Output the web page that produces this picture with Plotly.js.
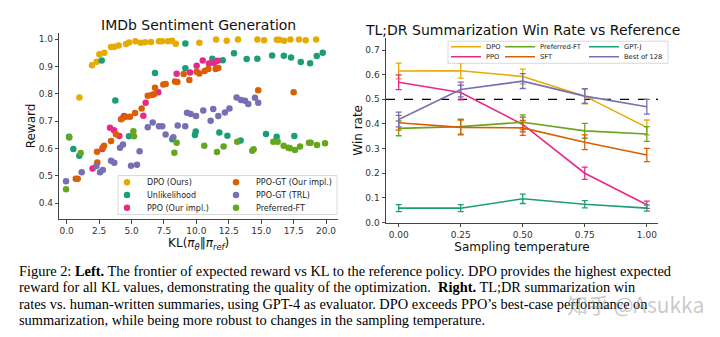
<!DOCTYPE html>
<html>
<head>
<meta charset="utf-8">
<script src="https://cdn.plot.ly/plotly-3.0.1.min.js"></script>
<style>html,body{margin:0;padding:0;background:#fff;}#chart{width:720px;height:337px;}</style>
</head>
<body>
<div id="chart"></div>
<script>
// ---------- Left panel: IMDb Sentiment Generation (KL vs Reward) ----------
const dpoKL = [0.98,1.95,2.31,2.52,2.90,3.42,3.68,4.01,4.58,4.81,5.30,5.71,6.04,6.50,7.12,7.35,7.81,8.12,8.41,10.23,11.52,12.34,13.21,14.70,15.22,16.20,16.40,16.76,17.25,17.92,18.43,19.23];
const dpoR  = [0.787,0.905,0.918,0.945,0.951,0.972,0.973,0.977,0.983,0.988,0.993,0.987,0.989,0.990,0.993,0.993,0.993,0.995,0.984,0.987,0.999,0.995,0.999,0.999,0.996,0.998,0.998,0.995,0.999,0.999,0.996,0.999];

const unlKL = [0.18,0.51,0.97,2.70,3.75,4.80,6.81,8.14,9.15,9.15,9.89,9.95,11.23,11.77,12.03,12.39,12.90,13.41,13.88,14.70,15.37,15.84,16.19,16.74,17.30,17.55,18.05,18.77,19.28,19.74];
const unlR  = [0.643,0.598,0.574,0.922,0.776,0.645,0.877,0.634,0.985,0.894,0.650,0.662,0.929,0.659,0.923,0.647,0.949,0.629,0.928,0.929,0.653,0.941,0.643,0.940,0.933,0.646,0.917,0.912,0.939,0.951];

const ppoKL = [2.00,2.75,3.34,3.65,4.06,4.42,5.91,6.09,7.06,8.48,9.51,10.02,10.49,10.97,11.36,11.64];
const ppoR  = [0.527,0.598,0.676,0.667,0.646,0.719,0.720,0.768,0.806,0.874,0.878,0.903,0.922,0.911,0.913,0.921];

const ppoGtKL = [0.70,0.85,2.34,2.36,2.78,2.88,3.42,3.80,4.19,4.30,4.55,4.88,5.27,5.78,6.25,6.55,6.73,6.81,7.45,7.63,8.35,8.53,9.02,9.46,10.02,10.23,10.64,10.92,11.49,11.69,14.77,17.50];
const ppoGtR  = [0.489,0.489,0.588,0.549,0.604,0.610,0.628,0.652,0.707,0.711,0.716,0.716,0.730,0.747,0.793,0.796,0.799,0.823,0.834,0.836,0.845,0.844,0.873,0.851,0.881,0.875,0.884,0.891,0.891,0.895,0.813,0.806];

const trlKL = [-0.05,1.16,2.29,2.57,2.78,3.42,3.67,4.11,4.34,4.96,5.42,5.62,6.25,6.63,7.12,7.37,7.63,8.22,8.56,9.14,9.28,9.56,9.97,10.53,11.10,11.30,11.69,12.20,12.55,13.10,13.44,13.75,14.00,14.52,14.77];
const trlR  = [0.480,0.513,0.536,0.513,0.521,0.555,0.548,0.603,0.615,0.537,0.541,0.590,0.678,0.695,0.682,0.682,0.651,0.641,0.684,0.682,0.731,0.726,0.719,0.739,0.702,0.745,0.719,0.732,0.747,0.787,0.778,0.775,0.763,0.786,0.768];

const pftKL = [-0.05,0.20,1.08,5.14,5.19,8.30,8.48,10.61,11.59,12.10,13.15,14.31,14.42,15.93,16.27,16.73,17.09,17.22,17.60,17.99,18.68,18.81,19.30,19.92];
const pftR  = [0.451,0.640,0.584,0.663,0.645,0.585,0.621,0.610,0.587,0.607,0.625,0.592,0.597,0.625,0.625,0.610,0.603,0.601,0.595,0.607,0.621,0.621,0.613,0.619];

const leftNames = ['DPO (Ours)','Unlikelihood','PPO (Our impl.)','PPO-GT (Our impl.)','PPO-GT (TRL)','Preferred-FT'];
const leftTicks = [0,2.5,5,7.5,10,12.5,15,17.5,20];
const leftTickText = ['0.0','2.5','5.0','7.5','10.0','12.5','15.0','17.5','20.0'];

// ---------- Right panel: TL;DR Summarization win rate ----------
const temps = [0.00,0.25,0.50,0.75,1.00];
const tempTickText = ['0.00','0.25','0.50','0.75','1.00'];
const winDPO   = [0.615,0.616,0.593,0.513,0.386];
const winPPO   = [0.569,0.528,0.398,0.200,0.072];
const winPFT   = [0.382,0.389,0.407,0.372,0.359];
const winSFT   = [0.405,0.386,0.384,0.326,0.274];
const winGPTJ  = [0.058,0.058,0.096,0.074,0.058];
const winBest  = [0.418,0.540,0.574,0.513,0.470];
const errDPO   = [0.032,0.030,0.030,0.030,0.030];
const errPPO   = [0.030,0.030,0.030,0.025,0.015];
const errPFT   = [0.030,0.030,0.030,0.030,0.030];
const errSFT   = [0.030,0.030,0.030,0.030,0.027];
const errGPTJ  = [0.014,0.014,0.019,0.015,0.012];
const errBest  = [0.030,0.030,0.030,0.030,0.030];
const rightNames = ['DPO','PPO','Preferred-FT','SFT','GPT-J','Best of 128'];
const refLine = 0.5;

const captionLines = [
  'Figure 2: <b>Left.</b> The frontier of expected reward vs KL to the reference policy. DPO provides the highest expected',
  'reward for all KL values, demonstrating the quality of the optimization.  <b>Right.</b> TL;DR summarization win',
  'rates vs. human-written summaries, using GPT-4 as evaluator. DPO exceeds PPO’s best-case performance on',
  'summarization, while being more robust to changes in the sampling temperature.'
];

// ---------- styling ----------
const C = {yellow:'#e6ab02', teal:'#1b9e77', pink:'#e7298a', orange:'#d95f02', purple:'#7570b3', green:'#66a61e'};
const W = 720, H = 337;
const px = v => v / W;
const py = v => 1 - v / H;

// legend slots (pixel positions of each legend entry: item left edge, row centre)
const leftSlots  = [[107,182.3],[107,195],[107,207.7],[216,182.3],[216,195],[216,207.7]];
const rightSlots = [[446,46.7],[446,56.7],[500,46.7],[500,56.7],[584,46.7],[584,56.7]];

function sc(x, y, name, color, k) {
  return {type:'scatter', mode:'markers', x:x, y:y, name:name, xaxis:'x', yaxis:'y', legend: k === 0 ? 'legend' : 'legend' + (k + 1),
    marker:{color:color, size:6.5, line:{width:0}}, hoverinfo:'skip'};
}
function ln(y, err, name, color, k) {
  return {type:'scatter', mode:'lines', x:temps, y:y, name:name, xaxis:'x2', yaxis:'y2', legend:'legend' + (k + 7),
    line:{color:color, width:1.6},
    error_y:{type:'data', array:err, visible:true, color:color, thickness:1.3, width:3}, hoverinfo:'skip'};
}

const data = [
  sc(dpoKL, dpoR, leftNames[0], C.yellow, 0),
  sc(unlKL, unlR, leftNames[1], C.teal, 1),
  sc(ppoKL, ppoR, leftNames[2], C.pink, 2),
  sc(ppoGtKL, ppoGtR, leftNames[3], C.orange, 3),
  sc(trlKL, trlR, leftNames[4], C.purple, 4),
  sc(pftKL, pftR, leftNames[5], C.green, 5),
  ln(winDPO, errDPO, rightNames[0], C.yellow, 0),
  ln(winPPO, errPPO, rightNames[1], C.pink, 1),
  ln(winPFT, errPFT, rightNames[2], C.green, 2),
  ln(winSFT, errSFT, rightNames[3], C.orange, 3),
  ln(winGPTJ, errGPTJ, rightNames[4], C.teal, 4),
  ln(winBest, errBest, rightNames[5], C.purple, 5)
];

const axBase = {showline:true, linecolor:'#444', linewidth:1, ticks:'outside', ticklen:3.5, tickwidth:1, tickcolor:'#444',
  showgrid:false, zeroline:false, tickfont:{size:9, color:'#333', family:'DejaVu Sans'}, fixedrange:true, automargin:false};

const annotations = [
  {text:'IMDb Sentiment Generation', xref:'paper', yref:'paper', x:px(198.7), y:py(25), xanchor:'center', yanchor:'middle', showarrow:false,
   font:{size:14, color:'#111', family:'DejaVu Sans'}},
  {text:'TL;DR Summarization Win Rate vs Reference', xref:'paper', yref:'paper', x:px(522), y:py(30), xanchor:'center', yanchor:'middle', showarrow:false,
   font:{size:14, color:'#111', family:'DejaVu Sans'}}
];
const capY = [270.5, 287, 303.5, 320];
captionLines.forEach((t, i) => annotations.push({text:t, xref:'paper', yref:'paper', x:px(17), y:py(capY[i]), xanchor:'left', yanchor:'middle',
  showarrow:false, align:'left', font:{size:14.4, color:'#000', family:'Liberation Serif'}}));
annotations.push({text:'知乎 @Asukka', xref:'paper', yref:'paper', x:px(565), y:py(304), xanchor:'left', yanchor:'middle', showarrow:false,
  font:{size:21, color:'rgba(150,150,150,0.5)', family:'Noto Sans CJK SC'}});

const layout = {
  width:W, height:H, margin:{l:0, r:0, t:0, b:0, autoexpand:false}, paper_bgcolor:'#fff', plot_bgcolor:'#fff',
  font:{family:'DejaVu Sans', color:'#222'},
  xaxis: Object.assign({}, axBase, {domain:[px(59.3), px(338)], anchor:'y', range:[-0.57, 20.92], tickvals:leftTicks, ticktext:leftTickText,
    title:{text:'KL(<i>π</i><sub><i>θ</i></sub>‖<i>π</i><sub><i>ref</i></sub>)', font:{size:12, color:'#111'}, standoff:0}}),
  yaxis: Object.assign({}, axBase, {domain:[py(219), py(33)], anchor:'x', range:[0.342, 1.023], tick0:0, dtick:0.1, tickformat:'.1f',
    title:{text:'Reward', font:{size:12, color:'#111'}, standoff:0}}),
  xaxis2: Object.assign({}, axBase, {domain:[px(386), px(658)], anchor:'y2', range:[-0.051, 1.045], tickvals:temps, ticktext:tempTickText,
    title:{text:'Sampling temperature', font:{size:12, color:'#111'}, standoff:0}}),
  yaxis2: Object.assign({}, axBase, {domain:[py(222.7), py(38)], anchor:'x2', range:[-0.001, 0.749], tick0:0, dtick:0.1, tickformat:'.1f',
    title:{text:'Win rate', font:{size:12, color:'#111'}, standoff:0}}),
  shapes:[
    {type:'line', xref:'x2 domain', yref:'y2', x0:0, x1:1, y0:refLine, y1:refLine, line:{color:'#000', width:1.2, dash:'dash'}, layer:'below'},
    {type:'rect', xref:'paper', yref:'paper', x0:px(118), x1:px(337), y0:py(214.5), y1:py(175.5), fillcolor:'rgba(255,255,255,0.8)',
     line:{color:'#d0d0d0', width:0.8}, layer:'above'},
    {type:'rect', xref:'paper', yref:'paper', x0:px(448), x1:px(668), y0:py(63.3), y1:py(41.2), fillcolor:'rgba(255,255,255,0.8)',
     line:{color:'#d0d0d0', width:0.8}, layer:'above'}
  ],
  annotations: annotations,
  showlegend:true
};

// one single-entry legend per slot so the entries sit in matplotlib-like columns
const legBase = {orientation:'v', xanchor:'left', yanchor:'middle', bgcolor:'rgba(0,0,0,0)', borderwidth:0, itemwidth:30};
leftSlots.forEach((s, i) => {
  layout[i === 0 ? 'legend' : 'legend' + (i + 1)] = Object.assign({}, legBase, {x:px(s[0]), y:py(s[1]),
    font:{size:8, color:'#222', family:'DejaVu Sans'}});
});
rightSlots.forEach((s, i) => {
  layout['legend' + (i + 7)] = Object.assign({}, legBase, {x:px(s[0]), y:py(s[1]),
    font:{size:6.7, color:'#222', family:'DejaVu Sans'}});
});

Plotly.newPlot('chart', data, layout, {displayModeBar:false, staticPlot:true});
</script>
</body>
</html>
